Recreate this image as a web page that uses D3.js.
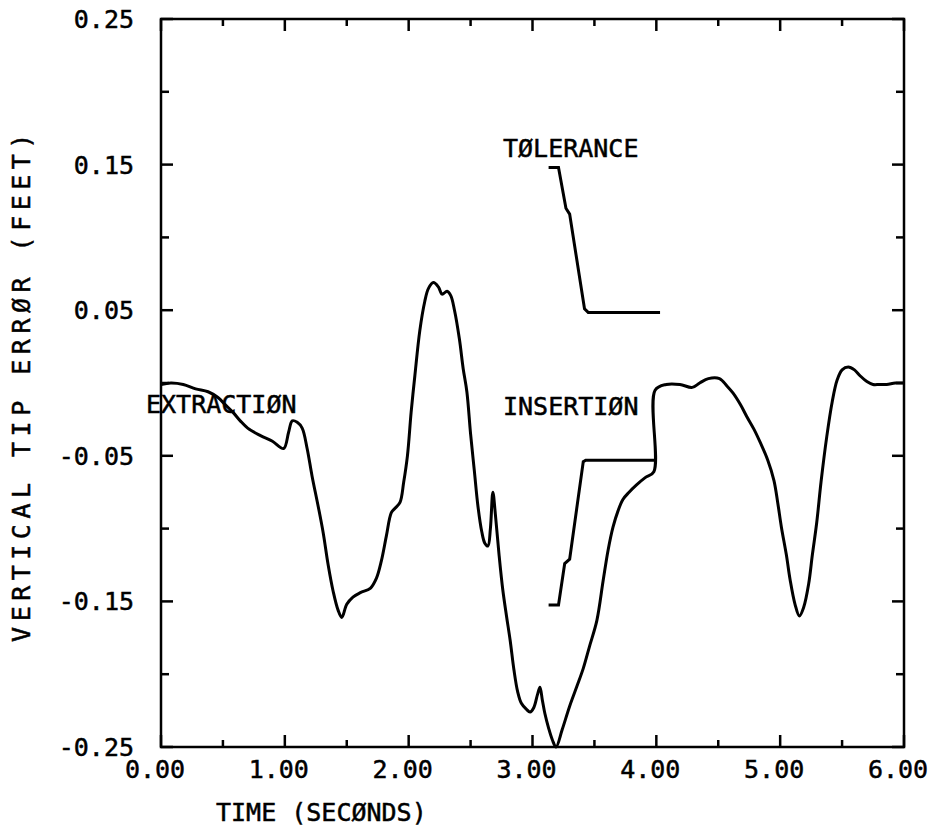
<!DOCTYPE html>
<html>
<head>
<meta charset="utf-8">
<script src="https://cdn.jsdelivr.net/npm/d3@7"></script>
<style>
  body { margin: 0; background: #fff; }
  text { font-family: "DejaVu Sans Mono", monospace; fill: #000; stroke: #000; stroke-width: 0.5; }
</style>
</head>
<body>
<svg id="chart" width="935" height="833"></svg>
<script>
// main curve: vertical tip error vs time
const mainTime = [0.00, 0.08, 0.18, 0.28, 0.38, 0.46, 0.52, 0.58, 0.64, 0.70, 0.80, 0.90, 0.99,
  1.03, 1.06, 1.10, 1.14, 1.18, 1.22, 1.27, 1.31, 1.35, 1.39, 1.43, 1.46, 1.50, 1.55, 1.61, 1.69,
  1.74, 1.78, 1.82, 1.86, 1.89, 1.93, 1.96, 1.99, 2.02, 2.05, 2.09, 2.13, 2.16, 2.20, 2.24, 2.27,
  2.31, 2.34, 2.37, 2.41, 2.44, 2.47, 2.50, 2.53, 2.56, 2.59, 2.615, 2.64, 2.66, 2.68, 2.70, 2.73,
  2.76, 2.79, 2.82, 2.85, 2.88, 2.91, 2.95, 2.98, 3.01, 3.04, 3.06, 3.08, 3.10, 3.13, 3.16, 3.19,
  3.24, 3.30, 3.36, 3.41, 3.46, 3.52, 3.57, 3.61, 3.65, 3.69, 3.73, 3.78, 3.84, 3.91, 3.98, 3.99,
  4.08, 4.19, 4.29, 4.35, 4.42, 4.51, 4.57, 4.62, 4.68, 4.73, 4.79, 4.84, 4.90, 4.95, 4.98, 5.01,
  5.05, 5.08, 5.12, 5.155, 5.19, 5.23, 5.26, 5.295, 5.33, 5.376, 5.42, 5.46, 5.50, 5.55, 5.60,
  5.645, 5.70, 5.75, 5.80, 5.86, 5.93, 6.00];
const mainError = [-0.001, 0.000, -0.001, -0.004, -0.006, -0.010, -0.015, -0.020, -0.026, -0.031, -0.036, -0.040, -0.045,
  -0.034, -0.026, -0.027, -0.031, -0.045, -0.064, -0.085, -0.103, -0.125, -0.143, -0.156, -0.161, -0.152, -0.147, -0.144, -0.141,
  -0.134, -0.122, -0.105, -0.089, -0.086, -0.082, -0.068, -0.050, -0.020, 0.005, 0.036, 0.056, 0.065, 0.069, 0.066, 0.061,
  0.063, 0.060, 0.050, 0.030, 0.010, -0.006, -0.035, -0.060, -0.085, -0.102, -0.110, -0.112, -0.100, -0.075, -0.090, -0.118,
  -0.142, -0.160, -0.177, -0.197, -0.212, -0.220, -0.224, -0.226, -0.223, -0.214, -0.209, -0.218, -0.227, -0.237, -0.245, -0.250,
  -0.238, -0.222, -0.208, -0.196, -0.181, -0.163, -0.136, -0.115, -0.099, -0.088, -0.080, -0.075, -0.070, -0.065, -0.061, -0.005,
  -0.001, -0.001, -0.003, 0.000, 0.003, 0.003, -0.002, -0.007, -0.015, -0.023, -0.032, -0.041, -0.053, -0.067, -0.082, -0.099,
  -0.118, -0.135, -0.152, -0.160, -0.154, -0.138, -0.118, -0.096, -0.068, -0.037, -0.013, 0.002, 0.009, 0.011, 0.009,
  0.005, 0.001, -0.001, -0.001, -0.001, 0.000, 0.000];

// tolerance band
const tolUpperTime = [3.13, 3.21, 3.27, 3.30, 3.42, 3.45, 4.03];
const tolUpper = [0.148, 0.148, 0.120, 0.116, 0.051, 0.0485, 0.0485];
const tolLowerTime = [3.13, 3.21, 3.26, 3.30, 3.41, 3.43, 3.99];
const tolLower = [-0.1525, -0.1525, -0.124, -0.121, -0.054, -0.053, -0.053];

// axes
const xTicks = [0, 1, 2, 3, 4, 5, 6];
const xMinorTicks = [0.5, 1.5, 2.5, 3.5, 4.5, 5.5];
const yTicks = [0.25, 0.15, 0.05, -0.05, -0.15, -0.25];
const yMinorTicks = [0.2, 0.1, 0.0, -0.1, -0.2];

// annotations: text, time, error at baseline
const labelText = ["EXTRACTIØN", "TØLERANCE", "INSERTIØN"];
const labelTime = [-0.121, 2.762, 2.762];
const labelError = [-0.0206, 0.155, -0.022];

const svg = d3.select("#chart");
const mLeft = 161, mRight = 904, mTop = 19, mBottom = 747;

const x = d3.scaleLinear().domain([0, 6]).range([mLeft, mRight]);
const y = d3.scaleLinear().domain([-0.25, 0.25]).range([mBottom, mTop]);

const line = d3.line().x(d => x(d[0])).y(d => y(d[1]));
const smooth = d3.line().x(d => x(d[0])).y(d => y(d[1])).curve(d3.curveCatmullRom.alpha(0.5));

// frame
svg.append("rect")
  .attr("x", mLeft).attr("y", mTop)
  .attr("width", mRight - mLeft).attr("height", mBottom - mTop)
  .attr("fill", "none").attr("stroke", "#000").attr("stroke-width", 2.5);

// inward ticks on all four sides
const tickG = svg.append("g").attr("stroke", "#000").attr("stroke-width", 2.5);
const allX = xTicks.map(t => [t, 12]).concat(xMinorTicks.map(t => [t, 7]));
const allY = yTicks.map(t => [t, 12]).concat(yMinorTicks.map(t => [t, 8]));
allX.forEach(([t, len]) => {
  tickG.append("line").attr("x1", x(t)).attr("x2", x(t)).attr("y1", mBottom).attr("y2", mBottom - len);
  tickG.append("line").attr("x1", x(t)).attr("x2", x(t)).attr("y1", mTop).attr("y2", mTop + len);
});
allY.forEach(([v, len]) => {
  tickG.append("line").attr("x1", mLeft).attr("x2", mLeft + len).attr("y1", y(v)).attr("y2", y(v));
  tickG.append("line").attr("x1", mRight).attr("x2", mRight - len).attr("y1", y(v)).attr("y2", y(v));
});

// tick labels
svg.append("g").selectAll("text")
  .data(xTicks)
  .join("text")
  .attr("x", d => x(d) - 6)
  .attr("y", 778)
  .attr("text-anchor", "middle")
  .attr("font-size", 25)
  .text(d => d.toFixed(2));

svg.append("g").selectAll("text")
  .data(yTicks)
  .join("text")
  .attr("x", 134)
  .attr("y", d => y(d))
  .attr("dy", "0.36em")
  .attr("text-anchor", "end")
  .attr("font-size", 25)
  .text(d => d.toFixed(2));

// axis titles
svg.append("text")
  .attr("x", 216).attr("y", 821)
  .attr("font-size", 25)
  .text("TIME (SECØNDS)");

svg.append("text")
  .attr("transform", "translate(30,385) rotate(-90)")
  .attr("text-anchor", "middle")
  .attr("letter-spacing", 5.5)
  .attr("font-size", 25)
  .text("VERTICAL TIP ERRØR (FEET)");

// curves
svg.append("path")
  .datum(mainTime.map((t, i) => [t, mainError[i]]))
  .attr("d", smooth)
  .attr("fill", "none").attr("stroke", "#000").attr("stroke-width", 3);

svg.append("path")
  .datum(tolUpperTime.map((t, i) => [t, tolUpper[i]]))
  .attr("d", line)
  .attr("fill", "none").attr("stroke", "#000").attr("stroke-width", 3);

svg.append("path")
  .datum(tolLowerTime.map((t, i) => [t, tolLower[i]]))
  .attr("d", line)
  .attr("fill", "none").attr("stroke", "#000").attr("stroke-width", 3);

// annotations
svg.append("g").selectAll("text")
  .data(labelText)
  .join("text")
  .attr("x", (d, i) => x(labelTime[i]))
  .attr("y", (d, i) => y(labelError[i]))
  .attr("font-size", 25)
  .text(d => d);
</script>
</body>
</html>
